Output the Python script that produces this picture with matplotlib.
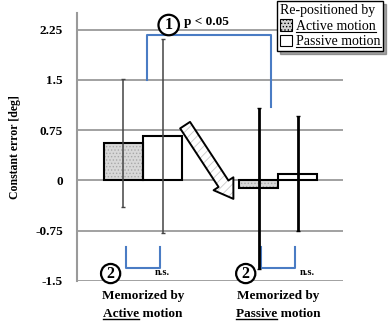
import numpy as np
import matplotlib.pyplot as plt
import matplotlib.patches as mpatches

plt.rcParams['font.family'] = ['Liberation Serif', 'DejaVu Serif']
plt.rcParams['hatch.linewidth'] = 0.6

# mean constant error and SD for each condition
groups = [0, 1]
active_mean = [0.56, -0.12]
passive_mean = [0.66, 0.10]
active_sd = [0.95, 1.20]
passive_sd = [1.45, 0.86]
yticks = [-1.5, -0.75, 0, 0.75, 1.5, 2.25]
ytick_labels = ['-1.5', '-0.75', '0', '0.75', '1.5', '2.25']
group_labels = [('Memorized by', 'Active', ' motion'),
                ('Memorized by', 'Passive', ' motion')]

W, H = 3.9, 3.24
fig = plt.figure(figsize=(W, H), dpi=100)
ax = fig.add_axes([0.197, 0.133, 0.6825, 0.827])

w = 0.29
x = np.array(groups, dtype=float)
xa = x - w / 2
xp = x + w / 2

# active bars: gray dotted fill, then black outline on top
ax.bar(xa, active_mean, w, color='#d8d8d8', edgecolor='#a8a8a8', hatch='.....', lw=0, zorder=3)
ax.bar(xa, active_mean, w, fill=False, edgecolor='black', lw=1.5, zorder=4)
ax.bar(xp, passive_mean, w, color='white', edgecolor='black', lw=1.5, zorder=3)

# error bars (first group thinner/gray, second black)
err_style = [dict(color='#444444', lw=1.1), dict(color='black', lw=2.0)]
for i in range(len(groups)):
    ax.errorbar(xa[i], active_mean[i], yerr=active_sd[i], fmt='none', capsize=1.5, zorder=5,
                ecolor=err_style[i]['color'], elinewidth=err_style[i]['lw'], capthick=1)
    ax.errorbar(xp[i], passive_mean[i], yerr=passive_sd[i], fmt='none', capsize=1.5, zorder=5,
                ecolor=err_style[i]['color'], elinewidth=err_style[i]['lw'], capthick=1)

ax.set_xlim(-0.49, 1.48)
ax.set_ylim(-1.5, 2.5)
ax.set_yticks(yticks)
ax.set_yticklabels(ytick_labels, fontweight='bold', fontsize=9.5)
ax.set_xticks([])
ax.tick_params(axis='y', length=0, pad=10)
for yv in yticks:
    ax.axhline(yv, color='#9a9a9a', lw=1.3, zorder=1)
for s in ['top', 'right', 'bottom']:
    ax.spines[s].set_visible(False)
ax.spines['left'].set_color('#9a9a9a')
ax.spines['left'].set_linewidth(1.5)
ax.set_ylabel('Constant error [deg]', fontweight='bold', fontsize=8.5, labelpad=10)

blue = '#4a7cc4'
# significant difference between memorized conditions
ax.plot([0.03, 0.03, 0.95, 0.95], [1.5, 2.17, 2.17, 1.1], color=blue, lw=1.5, zorder=2)
ax.text(0.19, 2.32, '1', fontsize=11.5, fontweight='bold', ha='center', va='center', zorder=6,
        bbox=dict(boxstyle='circle,pad=0.14', fc='white', ec='black', lw=1.6))
ax.text(0.30, 2.27, 'p < 0.05', fontsize=9.5, fontweight='bold', ha='left', va='bottom', zorder=6)

# n.s. within each memorized condition
for i in range(len(groups)):
    bx = [xa[i] + 0.02, xa[i] + 0.02, xp[i] - 0.02, xp[i] - 0.02]
    ax.plot(bx, [-0.99, -1.3, -1.3, -0.99], color=blue, lw=1.5, zorder=2)
    ax.text(xp[i] + 0.07 * i, -1.38, 'n.s.', fontsize=7.5, fontweight='bold', ha='center', va='center')
    ax.text(x[i] - 0.24, -1.39, '2', fontsize=11.5, fontweight='bold', ha='center', va='center', zorder=6,
            bbox=dict(boxstyle='circle,pad=0.1', fc='white', ec='black', lw=1.6))

# hollow arrow between the two groups: faint hatch first, outline on top
arrow_kw = dict(arrowstyle='simple,head_length=1.3,head_width=1.7,tail_width=0.85', mutation_scale=10)
ax.annotate('', xy=(0.68, -0.31), xytext=(0.30, 0.86),
            arrowprops=dict(fc='white', ec='#c8c8c8', lw=0, hatch='////', **arrow_kw), zorder=6)
ax.annotate('', xy=(0.68, -0.31), xytext=(0.30, 0.86),
            arrowprops=dict(fill=False, ec='black', lw=1.4, **arrow_kw), zorder=6)


def underline(t, width=None, lw=1.0):
    bb = t.get_window_extent(r)
    x1 = bb.x0 + (bb.width if width is None else width)
    fig.add_artist(plt.Line2D([bb.x0 / fig.dpi / W, x1 / fig.dpi / W],
                              [(bb.y0 + 1) / fig.dpi / H] * 2, color='black', lw=lw, zorder=10))


# legend
h_active = mpatches.Patch(facecolor='#d4d4d4', edgecolor='black', hatch='.....', lw=0.8)
h_passive = mpatches.Patch(facecolor='white', edgecolor='black', lw=0.8)
leg = fig.legend([h_active, h_passive], ['Active motion', 'Passive motion'],
                 title='Re-positioned by', loc='upper left', bbox_to_anchor=(0.706, 1.0),
                 fontsize=10, title_fontsize=10, frameon=True, fancybox=False, shadow=True,
                 edgecolor='black', framealpha=1, borderpad=0.2, handlelength=0.9,
                 handleheight=0.9, handletextpad=0.3, labelspacing=0.15, borderaxespad=0.1)
leg._legend_box.align = 'left'
leg.get_frame().set_linewidth(1.0)

# group labels below the axis, with the motion word underlined
fig.canvas.draw()
r = fig.canvas.get_renderer()
for t in leg.get_texts():
    underline(t, lw=0.8)
for i in range(len(groups)):
    top, word, rest = group_labels[i]
    ax.text(x[i], -1.72, top, fontsize=9.5, fontweight='bold', ha='center', va='center', clip_on=False)
    full = ax.text(x[i], -1.99, word + rest, fontsize=9.5, fontweight='bold', ha='center', va='center',
                   clip_on=False)
    part = ax.text(0, 0, word, fontsize=9.5, fontweight='bold', alpha=0)
    underline(full, width=part.get_window_extent(r).width)

fig.savefig('out.png', dpi=100)
